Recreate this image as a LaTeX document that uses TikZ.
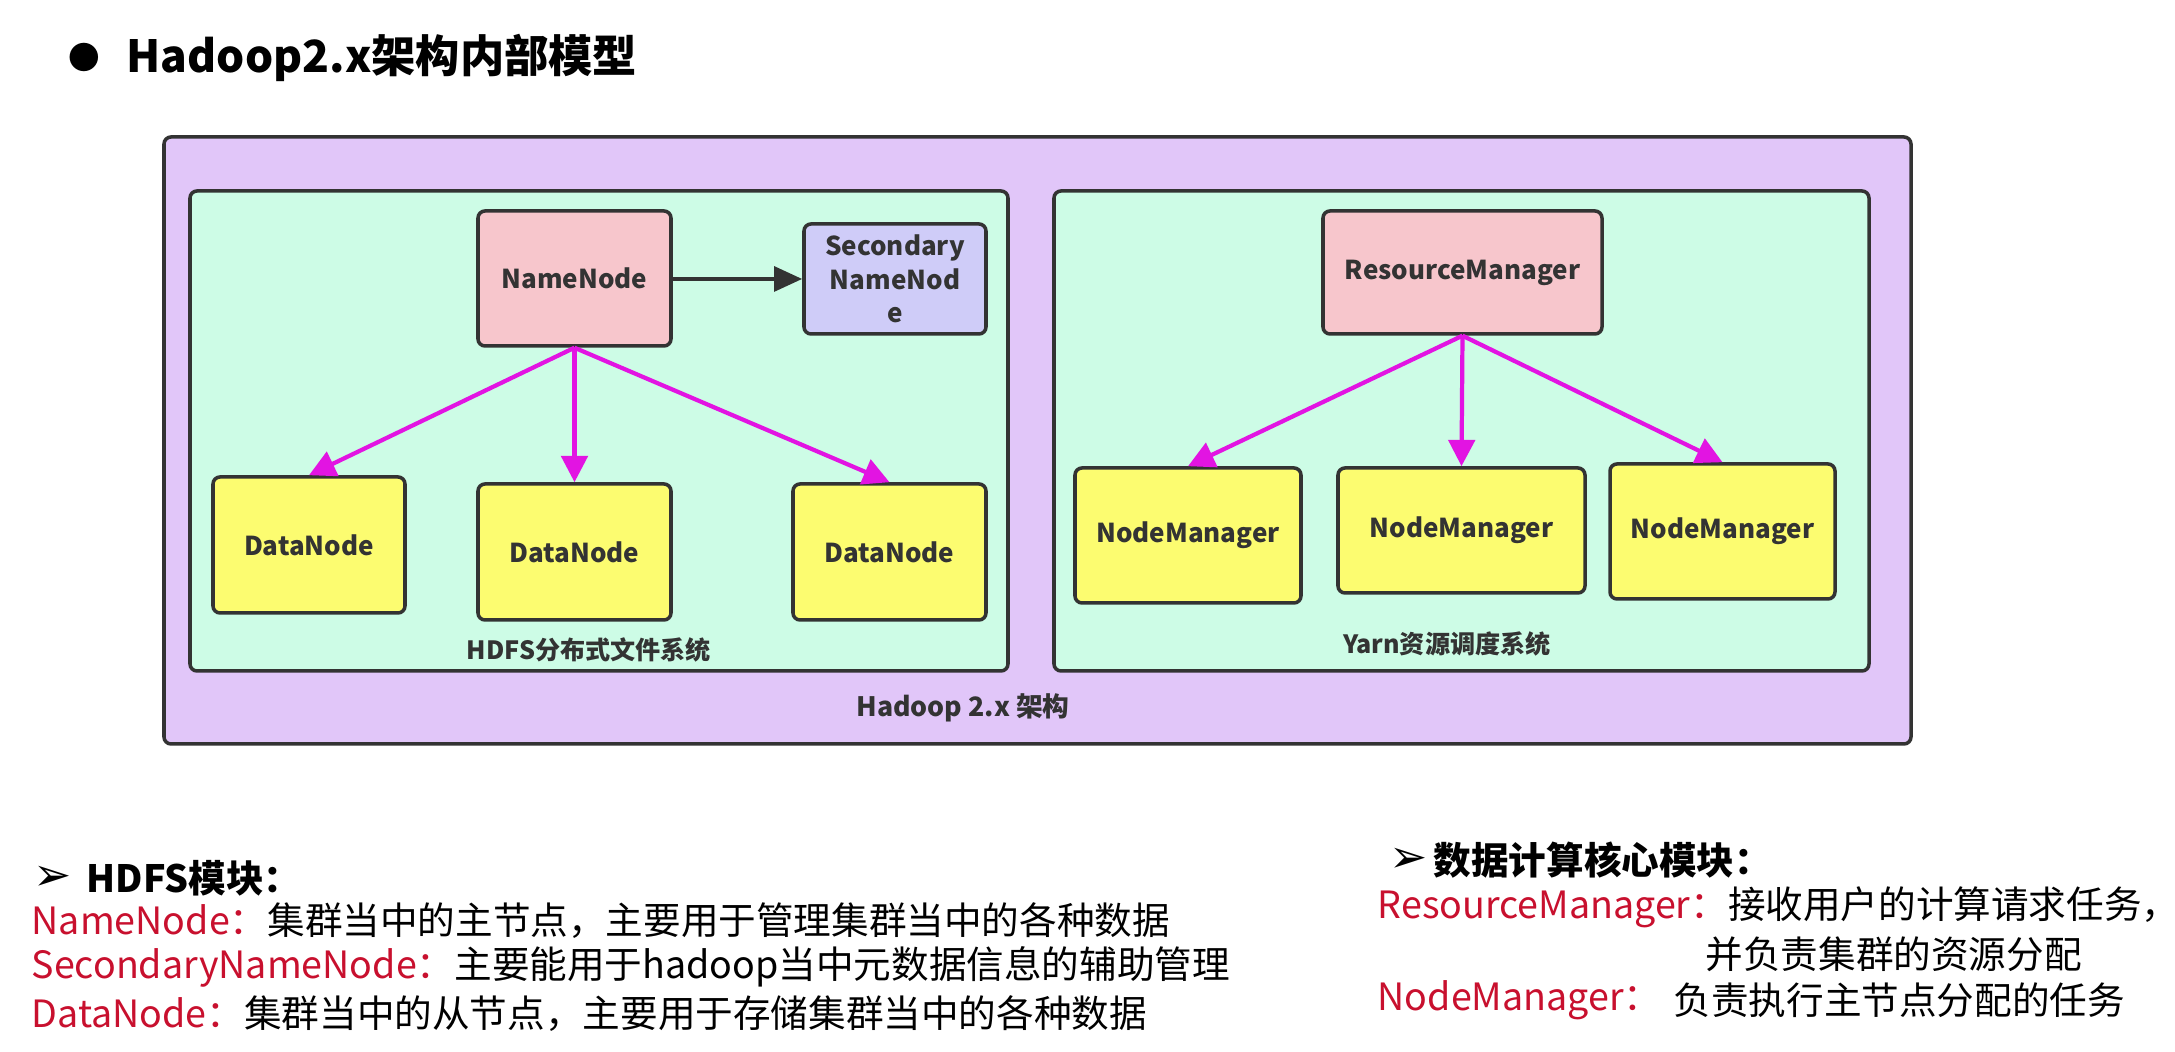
\documentclass[tikz,border=0pt]{standalone}
\usepackage{fontspec}
\setmainfont{Noto Sans CJK SC}
\newfontfamily\dingfont{DejaVu Sans}
\usetikzlibrary{positioning}
\usetikzlibrary{arrows.meta}

\definecolor{outerfill}{HTML}{E1C6F9}
\definecolor{greenfill}{HTML}{CDFCE6}
\definecolor{pinkfill}{HTML}{F7C6CC}
\definecolor{secfill}{HTML}{CFCCF8}
\definecolor{yellowfill}{HTML}{FCFC70}
\definecolor{linegray}{HTML}{333333}
\definecolor{arrowmag}{HTML}{E214E2}
\definecolor{labred}{HTML}{C8102E}

\begin{document}
\begin{tikzpicture}[
  frame/.style={draw=linegray, line width=1pt, rounded corners=2pt},
  box/.style={frame, text=linegray, align=center, inner sep=2pt,
    font=\fontsize{7.4}{9.6}\selectfont\bfseries},
  master/.style={box, fill=pinkfill},
  worker/.style={box, fill=yellowfill},
  helper/.style={box, fill=secfill},
  caption/.style={text=linegray, inner sep=0pt, font=\fontsize{7.15}{9}\selectfont\bfseries},
  feed/.style={draw=arrowmag, line width=1.2pt, -{Triangle[length=7.5pt,width=7.5pt]}},
  sync/.style={draw=linegray, line width=1.2pt, -{Triangle[length=8pt,width=7pt]}},
  body/.style={anchor=west, inner sep=0pt, font=\fontsize{10.7}{12}\selectfont},
  pointer/.style={anchor=west, inner sep=0pt, font=\fontsize{13}{14}\selectfont\dingfont},
]
  \useasboundingbox (0,0) rectangle (21.75,10.52);

  % Title
  \node[anchor=center, inner sep=0pt, font=\fontsize{9}{10}\selectfont] (dot) at (0.84,9.94) {●};
  \node[anchor=west, inner sep=0pt, font=\fontsize{12.6}{14}\selectfont\bfseries] (title) at (1.26,9.94) {Hadoop2.x架构内部模型};

  % Frames
  \draw[frame, fill=outerfill] (1.64,3.08) rectangle (19.11,9.15);
  \draw[frame, fill=greenfill] (1.90,3.81) rectangle (10.08,8.61);
  \draw[frame, fill=greenfill] (10.54,3.81) rectangle (18.69,8.61);

  % HDFS
  \node[master, minimum width=1.93cm, minimum height=1.35cm] (nn) at (5.745,7.735) {NameNode};
  \node[helper, minimum width=1.82cm, minimum height=1.10cm] (snn) at (8.95,7.73) {Secondary\\NameNod\\e};
  \node[worker, minimum width=1.92cm, minimum height=1.36cm] (dn1) at (3.09,5.07) {DataNode};
  \node[worker, minimum width=1.93cm, minimum height=1.36cm] (dn2) at (5.745,5.00) {DataNode};
  \node[worker, minimum width=1.93cm, minimum height=1.36cm] (dn3) at (8.895,5.00) {DataNode};
  \node[caption] (hdfs) at (5.89,4.02) {HDFS分布式文件系统};

  \draw[sync] (nn.east |- snn.west) -- (snn.west);
  \foreach \d in {dn1,dn2,dn3}
    \draw[feed] (nn.south) -- (\d.north);

  % Yarn
  \node[master, minimum width=2.79cm, minimum height=1.23cm] (rm) at (14.625,7.795) {ResourceManager};
  \node[worker, minimum width=2.26cm, minimum height=1.35cm] (nm1) at (11.88,5.165) {NodeManager};
  \node[worker, minimum width=2.47cm, minimum height=1.25cm] (nm2) at (14.615,5.215) {NodeManager};
  \node[worker, minimum width=2.25cm, minimum height=1.35cm] (nm3) at (17.225,5.205) {NodeManager};
  \node[caption] (yarn) at (14.47,4.08) {Yarn资源调度系统};

  \foreach \m in {nm1,nm2,nm3}
    \draw[feed] (rm.south) -- (\m.north);

  \node[caption, font=\fontsize{7.6}{9}\selectfont\bfseries] (arch) at (9.63,3.44) {Hadoop 2.x 架构};

  % Notes, left
  \node[pointer] (hmark) at (0.33,1.74) {➢};
  \node[body, font=\fontsize{10.7}{12}\selectfont\bfseries] (hhead) at (0.86,1.74) {HDFS模块：};
  \node[body] (hnn) at (0.31,1.31) {\textcolor{labred}{NameNode：}集群当中的主节点，主要用于管理集群当中的各种数据};
  \node[body] (hsnn) at (0.31,0.85) {\textcolor{labred}{SecondaryNameNode：}主要能用于hadoop当中元数据信息的辅助管理};
  \node[body] (hdn) at (0.31,0.38) {\textcolor{labred}{DataNode：}集群当中的从节点，主要用于存储集群当中的各种数据};

  % Notes, right
  \node[pointer] (ymark) at (13.89,1.92) {➢};
  \node[body, font=\fontsize{10.7}{12}\selectfont\bfseries] (yhead) at (14.33,1.92) {数据计算核心模块：};
  \node[body] (yrm) at (13.77,1.45) {\textcolor{labred}{ResourceManager：}接收用户的计算请求任务，};
  \node[body] (yrm2) at (17.05,0.98) {并负责集群的资源分配};
  \node[body] (ynm) at (13.77,0.52) {\textcolor{labred}{NodeManager：}};
  \node[body] (ynm2) at (16.73,0.52) {负责执行主节点分配的任务};
\end{tikzpicture}
\end{document}
